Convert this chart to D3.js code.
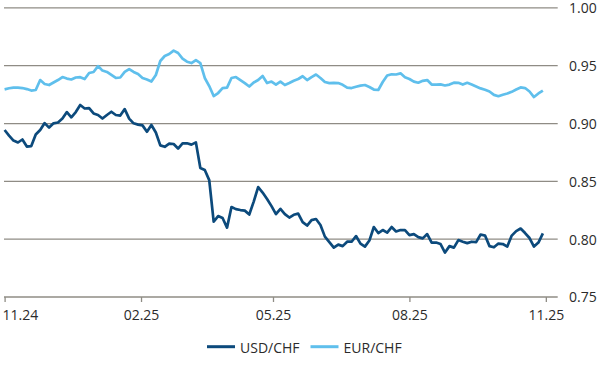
<!DOCTYPE html>
<html>
<head>
<meta charset="utf-8">
<script src="https://cdn.jsdelivr.net/npm/d3@7"></script>
<style>
    body { margin: 0; background: #fff; }
    svg { display: block; font-family: "Open Sans", sans-serif; }
</style>
</head>
<body>
<script>
// readings every 3 days, starting 01.11.2024
const startDate = new Date(2024, 10, 1);
const stepDays = 3;

const usdChf = [
    0.8944, 0.8896, 0.8853, 0.8836, 0.8862, 0.8801, 0.8805, 0.8905, 0.8944, 0.9004,
    0.8965, 0.9002, 0.9009, 0.9043, 0.9099, 0.9054, 0.9099, 0.9160, 0.9130, 0.9134,
    0.9087, 0.9074, 0.9043, 0.9074, 0.9102, 0.9074, 0.9069, 0.9125, 0.9043, 0.9002,
    0.8991, 0.8984, 0.8929, 0.8987, 0.8922, 0.8811, 0.8799, 0.8827, 0.8823, 0.8784,
    0.8829, 0.8829, 0.8818, 0.8837, 0.8615, 0.8598, 0.8511, 0.8151, 0.8200, 0.8183,
    0.8100, 0.8278, 0.8260, 0.8252, 0.8247, 0.8213, 0.8325, 0.8451, 0.8403, 0.8347,
    0.8286, 0.8217, 0.8262, 0.8217, 0.8187, 0.8211, 0.8221, 0.8148, 0.8118, 0.8165,
    0.8174, 0.8122, 0.8022, 0.7975, 0.7927, 0.7953, 0.7940, 0.7978, 0.7978, 0.8027,
    0.7962, 0.7936, 0.7988, 0.8105, 0.8053, 0.8079, 0.8057, 0.8105, 0.8067, 0.8079,
    0.8079, 0.8035, 0.8044, 0.8018, 0.8007, 0.8044, 0.7971, 0.7971, 0.7958, 0.7884,
    0.7940, 0.7927, 0.7992, 0.7978, 0.7966, 0.7978, 0.7975, 0.8040, 0.8031, 0.7940,
    0.7930, 0.7962, 0.7958, 0.7936, 0.8031, 0.8070, 0.8092, 0.8053, 0.8010, 0.7936,
    0.7971, 0.8050
];

const eurChf = [
    0.9296, 0.9305, 0.9311, 0.9311, 0.9307, 0.9298, 0.9285, 0.9290, 0.9376, 0.9342,
    0.9333, 0.9355, 0.9376, 0.9402, 0.9389, 0.9381, 0.9398, 0.9401, 0.9385, 0.9437,
    0.9446, 0.9497, 0.9458, 0.9446, 0.9420, 0.9394, 0.9398, 0.9446, 0.9471, 0.9446,
    0.9428, 0.9394, 0.9381, 0.9363, 0.9420, 0.9541, 0.9584, 0.9601, 0.9631, 0.9610,
    0.9562, 0.9535, 0.9523, 0.9549, 0.9523, 0.9394, 0.9324, 0.9238, 0.9264, 0.9307,
    0.9311, 0.9394, 0.9402, 0.9376, 0.9350, 0.9320, 0.9355, 0.9376, 0.9411, 0.9350,
    0.9363, 0.9337, 0.9363, 0.9333, 0.9350, 0.9370, 0.9385, 0.9409, 0.9376, 0.9402,
    0.9424, 0.9394, 0.9359, 0.9350, 0.9352, 0.9350, 0.9335, 0.9311, 0.9307, 0.9318,
    0.9328, 0.9333, 0.9316, 0.9294, 0.9290, 0.9359, 0.9415, 0.9426, 0.9424, 0.9434,
    0.9400, 0.9385, 0.9362, 0.9353, 0.9369, 0.9376, 0.9337, 0.9337, 0.9339, 0.9329,
    0.9337, 0.9353, 0.9352, 0.9337, 0.9352, 0.9337, 0.9320, 0.9304, 0.9292, 0.9277,
    0.9248, 0.9236, 0.9249, 0.9260, 0.9274, 0.9294, 0.9312, 0.9307, 0.9277, 0.9229,
    0.9260, 0.9285
];

const xTickDates = [new Date(2024, 10, 1), new Date(2025, 1, 1), new Date(2025, 4, 1), new Date(2025, 7, 1), new Date(2025, 10, 1)];
const xTickLabels = ["11.24", "02.25", "05.25", "08.25", "11.25"];
const yTicks = [0.75, 0.80, 0.85, 0.90, 0.95, 1.00];
const seriesNames = ["USD/CHF", "EUR/CHF"];
const seriesColors = ["#0c4a7c", "#5fbfec"];

const width = 600, height = 380;

const svg = d3.select("body")
    .append("svg")
    .attr("width", width)
    .attr("height", height)

const x = d3.scaleTime()
    .domain([new Date(2024, 10, 1), new Date(2025, 10, 9)])
    .range([4.6, 557.7])

const y = d3.scaleLinear()
    .domain([0.75, 1.00])
    .range([297, 7.9])

const dateAt = (i) => d3.timeDay.offset(startDate, i * stepDays);

// grid lines + right labels
svg.append("g")
    .selectAll("line")
    .data(yTicks)
    .join("line")
    .attr("x1", x.range()[0] - 0.6)
    .attr("x2", x.range()[1])
    .attr("y1", d => y(d))
    .attr("y2", d => y(d))
    .attr("stroke", "#8f8c85")
    .attr("stroke-width", 1.3)

svg.append("g")
    .selectAll("text")
    .data(yTicks)
    .join("text")
    .attr("x", 569)
    .attr("y", d => y(d))
    .attr("dy", "0.38em")
    .attr("font-size", "14px")
    .attr("fill", "#2b2b2b")
    .text(d => d3.format(".2f")(d))

// x axis ticks
let xAxis = svg.append("g")
    .attr("transform", `translate(0, ${y(0.75)})`)
    .call(d3.axisBottom(x)
        .tickValues(xTickDates)
        .tickSize(5)
        .tickFormat((d, i) => xTickLabels[i]))

xAxis.select(".domain").remove();
xAxis.selectAll(".tick line")
    .attr("stroke", "#8f8c85")
    .attr("stroke-width", 1.3)
xAxis.selectAll(".tick text")
    .attr("font-size", "14px")
    .attr("font-family", "Open Sans, sans-serif")
    .attr("fill", "#2b2b2b")
    .attr("y", 13)
    .attr("dy", "0.71em")
xAxis.selectAll(".tick text")
    .filter((d, i) => i === 0)
    .attr("text-anchor", "start")
    .attr("x", -2.6)

// series lines
const line = d3.line()
    .x((d, i) => x(dateAt(i)))
    .y(d => y(d))

svg.append("path")
    .datum(usdChf)
    .attr("fill", "none")
    .attr("stroke", seriesColors[0])
    .attr("stroke-width", 2.7)
    .attr("stroke-linejoin", "round")
    .attr("d", line)

svg.append("path")
    .datum(eurChf)
    .attr("fill", "none")
    .attr("stroke", seriesColors[1])
    .attr("stroke-width", 2.7)
    .attr("stroke-linejoin", "round")
    .attr("d", line)

// legend
let legend = svg.append("g")
    .selectAll("g")
    .data(seriesNames)
    .join("g")
    .attr("transform", (d, i) => "translate(" + (207 + i * 103.5) + ", 346.7)")

legend.append("line")
    .attr("x1", 0)
    .attr("x2", 28)
    .attr("stroke", (d, i) => seriesColors[i])
    .attr("stroke-width", 3)

legend.append("text")
    .attr("x", 33)
    .attr("dy", "0.47em")
    .attr("font-size", "14px")
    .attr("fill", "#2b2b2b")
    .text(d => d)
</script>
</body>
</html>
